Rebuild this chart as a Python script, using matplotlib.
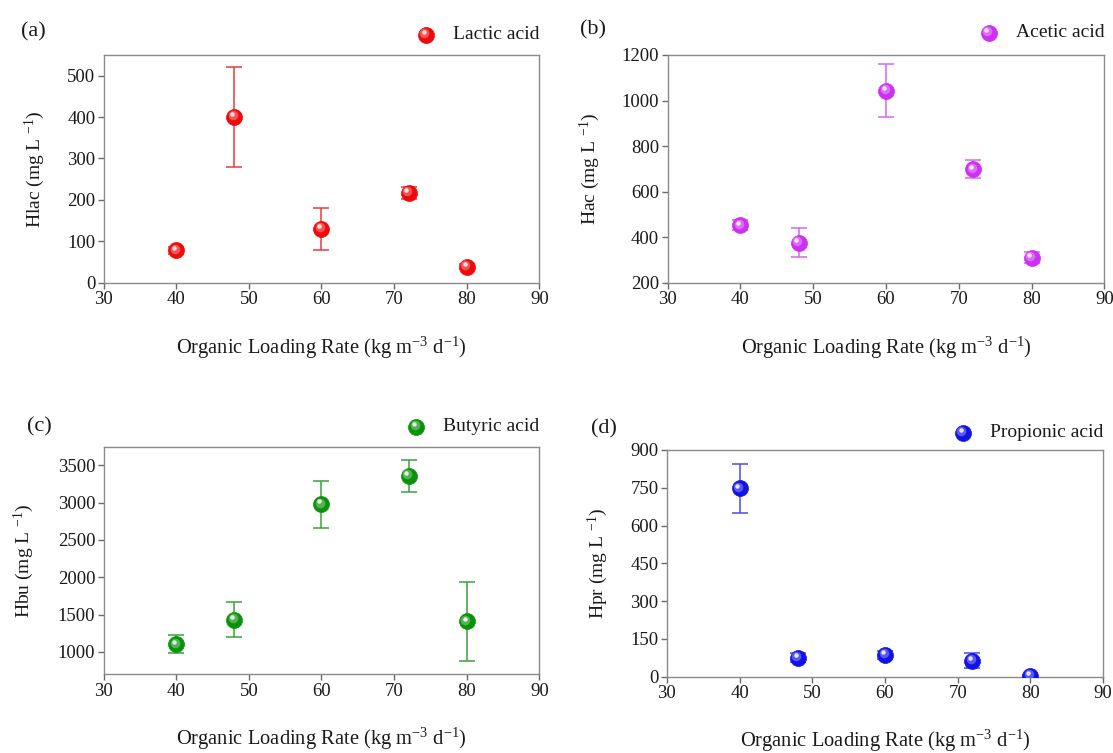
'''
Volatile fatty acid concentrations against organic loading rate
'''
import matplotlib
matplotlib.use('Agg')
import matplotlib.pyplot as plt
from matplotlib.transforms import ScaledTranslation

plt.rcParams['font.family'] = ['Liberation Serif', 'DejaVu Serif']
plt.rcParams['mathtext.fontset'] = 'custom'
plt.rcParams['mathtext.rm'] = 'Liberation Serif'
plt.rcParams['mathtext.it'] = 'Liberation Serif:italic'

olr = [40, 48, 60, 72, 80]

lactic = [78, 400, 130, 217, 38]
lactic_err = [8, 120, 50, 15, 6]

acetic = [452, 376, 1043, 698, 310]
acetic_err = [22, 62, 117, 40, 23]

butyric = [1100, 1428, 2978, 3356, 1410]
butyric_err = [120, 235, 315, 220, 530]

propionic = [748, 75, 87, 64, 3]
propionic_err = [97, 18, 17, 30, 5]

XLABEL = r'Organic Loading Rate (kg m$^{-3}$ d$^{-1}$)'

# (panel tag, legend name, y label, values, errors, ball colour, bar colour, ylim, yticks)
panels = [
    ('(a)', 'Lactic acid', r'Hlac (mg L $^{-1}$)', lactic, lactic_err,
     '#ee0a0a', '#e63c3c', (0, 550), range(0, 501, 100)),
    ('(b)', 'Acetic acid', r'Hac (mg L $^{-1}$)', acetic, acetic_err,
     '#cc30f0', '#d764f2', (200, 1200), range(200, 1201, 200)),
    ('(c)', 'Butyric acid', r'Hbu (mg L $^{-1}$)', butyric, butyric_err,
     '#0a920a', '#3aa03a', (700, 3740), range(1000, 3501, 500)),
    ('(d)', 'Propionic acid', r'Hpr (mg L $^{-1}$)', propionic, propionic_err,
     '#1212e8', '#4a4aea', (0, 900), range(0, 901, 150)),
]

# axes rectangles in figure fraction
rects = [
    [0.0931, 0.6246, 0.3915, 0.3024],
    [0.5998, 0.6246, 0.3924, 0.3024],
    [0.0931, 0.1045, 0.3915, 0.3015],
    [0.5992, 0.1013, 0.3920, 0.3011],
]
ylabel_x = [-0.157, -0.178, -0.183, -0.159]
legend_y = [1.088, 1.098, 1.09, 1.076]
tag_pos = [(0.019, 0.958), (0.521, 0.960), (0.024, 0.433), (0.531, 0.431)]

MS = 11.5


def sphere(ax, x, y, color, trans=None, clip=True):
    'Shaded ball: base disc, a soft lighter patch and a small glint up-left'
    fig = ax.figure
    if trans is None:
        trans = ax.transData
    ax.plot(x, y, 'o', ms=MS, color=color, mec=color, mew=0.5, zorder=3,
            transform=trans, clip_on=clip)
    soft = trans + ScaledTranslation(-1.0 / 72, 1.2 / 72, fig.dpi_scale_trans)
    ax.plot(x, y, 'o', ms=MS * 0.6, mfc='white', mec='none', alpha=0.3, zorder=4,
            transform=soft, clip_on=clip)
    glint = trans + ScaledTranslation(-1.6 / 72, 2.0 / 72, fig.dpi_scale_trans)
    ax.plot(x, y, 'o', ms=MS * 0.28, mfc='white', mec='none', alpha=0.85, zorder=5,
            transform=glint, clip_on=clip)


fig = plt.figure(figsize=(11.13, 7.53), dpi=100)
renderer = fig.canvas.get_renderer()

for i, (tag, name, ylab, vals, errs, col, ecol, ylim, yticks) in enumerate(panels):
    ax = fig.add_axes(rects[i])
    ax.errorbar(olr, vals, yerr=errs, fmt='none', ecolor=ecol, elinewidth=1.1,
                capsize=6, capthick=1.1, zorder=2)
    sphere(ax, olr, vals, col)

    ax.set_xlim(30, 90)
    ax.set_xticks(range(30, 91, 10))
    ax.set_ylim(*ylim)
    ax.set_yticks(list(yticks))
    for sp in ax.spines.values():
        sp.set_color('#8a8a8a')
        sp.set_linewidth(1.0)
    ax.tick_params(direction='out', length=4, width=1, color='#6a6a6a',
                   labelsize=13.5, labelcolor='#1a1a1a', pad=2)

    ax.set_xlabel(XLABEL, fontsize=14.8, color='#1a1a1a')
    ax.xaxis.set_label_coords(0.5, -0.285)
    ax.xaxis.label.set_va('center')
    ax.set_ylabel(ylab, fontsize=14, color='#1a1a1a')
    ax.yaxis.set_label_coords(ylabel_x[i], 0.5)
    ax.yaxis.label.set_va('center')

    # key above the top right corner: name right-aligned, ball to its left
    key = ax.text(1.0, legend_y[i], name, transform=ax.transAxes, ha='right',
                  va='center', fontsize=14, color='#1a1a1a')
    bb = key.get_window_extent(renderer).transformed(ax.transAxes.inverted())
    ball_x = bb.x0 - 27.0 / (rects[i][2] * 1113)
    sphere(ax, [ball_x], [legend_y[i]], col, trans=ax.transAxes, clip=False)

    fig.text(tag_pos[i][0], tag_pos[i][1], tag, fontsize=16, color='#1a1a1a',
             va='center', ha='left')

fig.savefig('out.png', dpi=100)
